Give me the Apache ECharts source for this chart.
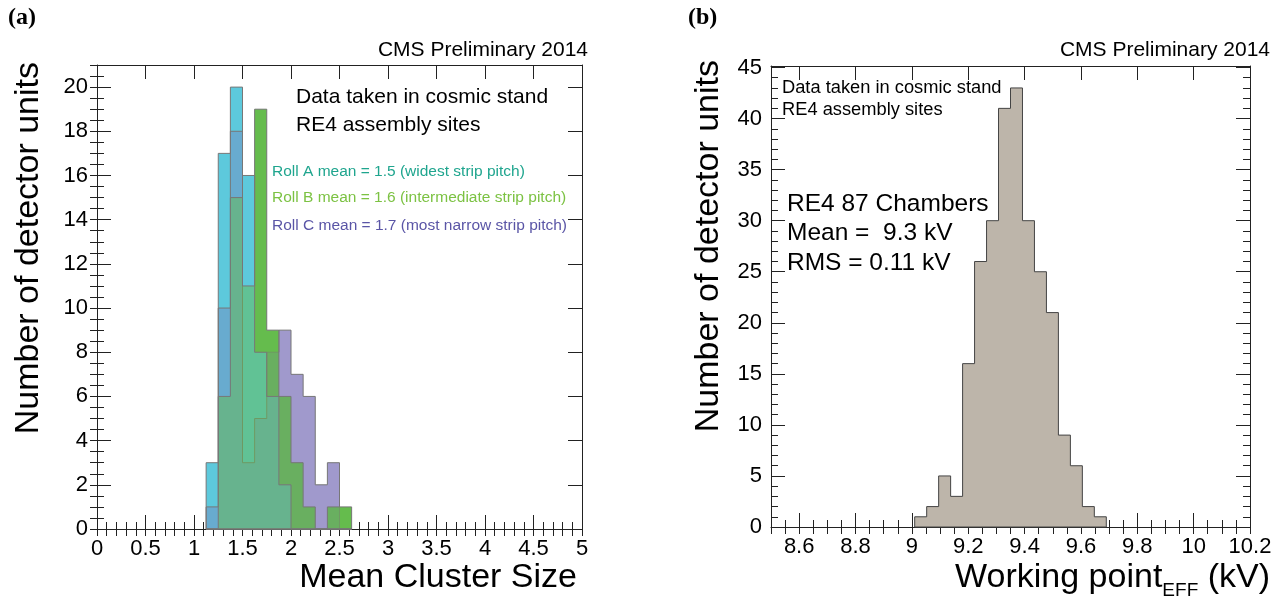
<!DOCTYPE html>
<html>
<head>
<meta charset="utf-8">
<script src="https://cdn.jsdelivr.net/npm/echarts@6/dist/echarts.min.js"></script>
<style>
  html, body { margin: 0; padding: 0; background: #fff; }
  #main { width: 1285px; height: 599px; }
</style>
</head>
<body>
<div id="main"></div>
<script>
// (a) mean cluster size, bins of 0.125 starting at these left edges
var clusterBins = [1.125, 1.25, 1.375, 1.5, 1.625, 1.75, 1.875, 2.0, 2.125, 2.25, 2.375, 2.5];
var clusterWidth = 0.125;
var rollA = [3, 17, 20, 16, 8, 6, 2, 0, 0, 0, 0, 0];
var rollB = [0, 6, 15, 11, 19, 9, 6, 3, 1, 0, 1, 1];
var rollC = [1, 10, 18, 3, 5, 8, 9, 7, 6, 2, 3, 0];

// (b) working point, bins of 0.0425 kV
var wpBins = [9.01, 9.0525, 9.095, 9.1375, 9.18, 9.2225, 9.265, 9.3075, 9.35, 9.3925, 9.435, 9.4775, 9.52, 9.5625, 9.605, 9.6475];
var wpWidth = 0.0425;
var wpCounts = [1, 2, 5, 3, 16, 26, 30, 41, 43, 30, 25, 21, 9, 6, 2, 1];

// tick labels
var aXTicks = [0, 0.5, 1, 1.5, 2, 2.5, 3, 3.5, 4, 4.5, 5];
var aYTicks = [0, 2, 4, 6, 8, 10, 12, 14, 16, 18, 20];
var bXTicks = [8.6, 8.8, 9, 9.2, 9.4, 9.6, 9.8, 10, 10.2];
var bYTicks = [0, 5, 10, 15, 20, 25, 30, 35, 40, 45];

var FONT = 'Liberation Sans, Arial, Helvetica, sans-serif';

function steps(min, max, step) {
  var out = [];
  for (var v = min; v <= max + 1e-9; v += step) out.push(Math.round(v * 10000) / 10000);
  return out;
}

// two axes per side: one for major ticks (+labels/line), one for minor ticks
function sideAxes(grid, pos, min, max, major, minorStep, labels) {
  var base = { gridIndex: grid, type: 'value', position: pos, min: min, max: max, splitLine: { show: false } };
  var maj = Object.assign({}, base, {
    axisLine: { show: true, onZero: false, lineStyle: { color: '#222', width: 1 } },
    axisTick: { show: true, inside: true, length: 14, customValues: major, lineStyle: { color: '#222' } },
    axisLabel: labels ? { show: true, customValues: major, fontFamily: FONT, fontSize: 22, color: '#000', margin: 9 } : { show: false }
  });
  var mnr = Object.assign({}, base, {
    axisLine: { show: false },
    axisTick: { show: true, inside: true, length: 7, customValues: steps(min, max, minorStep), lineStyle: { color: '#222' } },
    axisLabel: { show: false }
  });
  return [maj, mnr];
}

// step-shaped histogram drawn as one polygon through the axis scales
function hist(xi, yi, bins, width, values, fill, stroke) {
  return {
    type: 'custom',
    xAxisIndex: xi,
    yAxisIndex: yi,
    silent: true,
    data: [[bins[0], 0]],
    renderItem: function (params, api) {
      var pts = [api.coord([bins[0], 0])];
      for (var i = 0; i < values.length; i++) {
        pts.push(api.coord([bins[i], values[i]]));
        pts.push(api.coord([bins[i] + width, values[i]]));
      }
      pts.push(api.coord([bins[bins.length - 1] + width, 0]));
      return {
        type: 'polygon', shape: { points: pts },
        style: { fill: fill, stroke: stroke || null, lineWidth: stroke ? 1 : 0 }
      };
    }
  };
}

function txt(x, y, text, size, opts) {
  opts = opts || {};
  return {
    type: 'text', x: x, y: y, rotation: opts.rot || 0, z: 100,
    style: {
      text: text, fill: opts.color || '#000',
      font: (opts.weight || 'normal') + ' ' + size + 'px ' + (opts.family || FONT),
      textAlign: opts.align || 'left', textVerticalAlign: 'middle', rich: opts.rich
    }
  };
}

var xAxes = [].concat(
  sideAxes(0, 'bottom', 0, 5, aXTicks, 0.1, true),
  sideAxes(0, 'top', 0, 5, aXTicks, 0.1, false),
  sideAxes(1, 'bottom', 8.5, 10.2, bXTicks, 0.05, true),
  sideAxes(1, 'top', 8.5, 10.2, bXTicks, 0.05, false)
);
var yAxes = [].concat(
  sideAxes(0, 'left', 0, 21, aYTicks, 0.5, true),
  sideAxes(0, 'right', 0, 21, aYTicks, 0.5, false),
  sideAxes(1, 'left', 0, 45.15, bYTicks, 1, true),
  sideAxes(1, 'right', 0, 45.15, bYTicks, 1, false)
);

var chart = echarts.init(document.getElementById('main'));
chart.setOption({
  animation: false,
  backgroundColor: '#fff',
  grid: [
    { left: 97, top: 65, width: 485, height: 464 },
    { left: 771, top: 66, width: 479, height: 461 }
  ],
  xAxis: xAxes,
  yAxis: yAxes,
  series: [
    // solid underlay, then translucent overlays so overlaps mix
    hist(0, 0, clusterBins, clusterWidth, rollC, '#b3aed7'),
    hist(0, 0, clusterBins, clusterWidth, rollB, '#65bc4d'),
    hist(0, 0, clusterBins, clusterWidth, rollA, '#5dc9dc'),
    hist(0, 0, clusterBins, clusterWidth, rollC, 'rgba(125,116,184,0.35)', '#777'),
    hist(0, 0, clusterBins, clusterWidth, rollB, 'rgba(101,188,77,0.5)', '#777'),
    hist(0, 0, clusterBins, clusterWidth, rollA, 'rgba(0,0,0,0)', '#777'),
    hist(4, 4, wpBins, wpWidth, wpCounts, '#bdb5aa', '#444')
  ],
  graphic: [
    txt(8, 18, '(a)', 24, { weight: 'bold', family: 'Liberation Serif, Times New Roman, serif' }),
    txt(688, 18, '(b)', 24, { weight: 'bold', family: 'Liberation Serif, Times New Roman, serif' }),
    txt(588, 50, 'CMS Preliminary 2014', 21, { align: 'right' }),
    txt(1270, 50, 'CMS Preliminary 2014', 21, { align: 'right' }),
    txt(296, 97, 'Data taken in cosmic stand', 21),
    txt(296, 125, 'RE4 assembly sites', 21),
    txt(272, 172, 'Roll A mean = 1.5 (widest strip pitch)', 15.5, { color: '#1fa58e' }),
    txt(272, 198, 'Roll B mean = 1.6 (intermediate strip pitch)', 15.5, { color: '#7cc243' }),
    txt(272, 226, 'Roll C mean = 1.7 (most narrow strip pitch)', 15.5, { color: '#5a55a6' }),
    txt(782, 88, 'Data taken in cosmic stand', 18.3),
    txt(782, 110, 'RE4 assembly sites', 18.3),
    txt(787, 204, 'RE4 87 Chambers', 24.5),
    txt(787, 233, 'Mean =  9.3 kV', 24.5),
    txt(787, 263, 'RMS = 0.11 kV', 24.5),
    txt(29, 62, 'Number of detector units', 34, { align: 'right', rot: Math.PI / 2 }),
    txt(709, 60, 'Number of detector units', 34, { align: 'right', rot: Math.PI / 2 }),
    txt(577, 578, 'Mean Cluster Size', 34, { align: 'right' }),
    txt(1270, 578, '{m|Working point}{s|EFF}{m| (kV)}', 34, {
      align: 'right',
      rich: {
        m: { fontFamily: FONT, fontSize: 34, lineHeight: 34, verticalAlign: 'bottom' },
        s: { fontFamily: FONT, fontSize: 19, lineHeight: 19, verticalAlign: 'bottom', padding: [0, 0, -5, 0] }
      }
    })
  ]
});
</script>
</body>
</html>
